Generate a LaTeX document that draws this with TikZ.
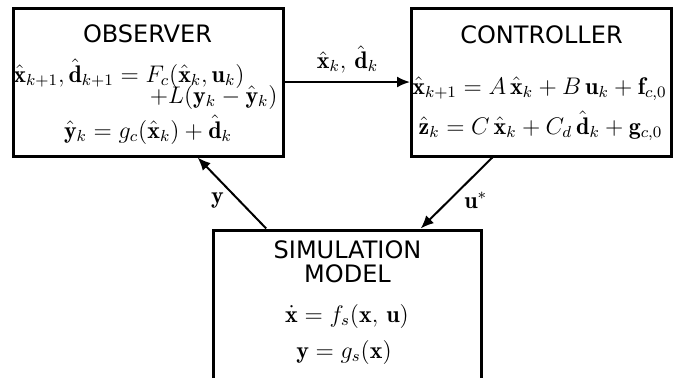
\documentclass[tikz,border=0pt]{standalone}
\usepackage{amsmath,amssymb}
\usepackage{fontspec}
\newfontfamily\titlefont{DejaVu Sans}
\usetikzlibrary{arrows.meta,positioning,calc}
\newcommand{\bx}{\mathbf{x}}
\newcommand{\bhx}{\hat{\mathbf{x}}}
\newcommand{\bhd}{\hat{\mathbf{d}}}
\tikzset{
  blk/.style={draw, line width=1.5pt, inner sep=0pt},
  ttl/.style={font=\titlefont\fontsize{12}{12}\selectfont, align=center, inner sep=0pt},
  eq/.style={font=\fontsize{12}{14}\selectfont, inner sep=0pt},
  fl/.style={-{Latex[length=6.5pt,width=5.5pt]}, line width=1pt},
  sig/.style={font=\fontsize{12}{14}\selectfont, inner sep=1pt},
}
\begin{document}
\begin{tikzpicture}[x=0.5pt, y=-0.5pt]
  \clip (0,0) rectangle (673,377);
  % blocks
  \node[blk, minimum width=135pt, minimum height=74pt] (obs) at (148.5,82) {};
  \node[blk, minimum width=130pt, minimum height=74pt] (ctrl) at (541.5,82) {};
  \node[blk, minimum width=134pt, minimum height=95pt] (sim) at (347.5,325) {};
  % observer
  \node[ttl] (obs title) at (147.5,34) {OBSERVER};
  \node[eq, anchor=base west] (obs eq1) at (13,82)
    {$\bhx_{k+1}, \bhd_{k+1} = F_c(\bhx_k, \mathbf{u}_k)$};
  \node[eq, anchor=base east] (obs eq2) at (278,103)
    {$+L(\mathbf{y}_k - \hat{\mathbf{y}}_k)$};
  \node[eq, anchor=base] (obs eq3) at (148,138) {$\hat{\mathbf{y}}_k = g_c(\bhx_k) + \bhd_k$};
  % controller
  \node[ttl] (ctrl title) at (541.5,35) {CONTROLLER};
  \node[eq] (ctrl eq1) at (539.5,89) {$\bhx_{k+1} = A\,\bhx_k + B\,\mathbf{u}_k + \mathbf{f}_{c,0}$};
  \node[eq] (ctrl eq2) at (540.5,126) {$\hat{\mathbf{z}}_k = C\,\bhx_k + C_d\,\bhd_k + \mathbf{g}_{c,0}$};
  % simulation model
  \node[ttl] (sim title) at (347.5,262) {SIMULATION\\MODEL};
  \node[eq] (sim eq1) at (347,316) {$\dot{\bx} = f_s(\bx,\, \mathbf{u})$};
  \node[eq] (sim eq2) at (344,352) {$\mathbf{y} = g_s(\bx)$};
  % signals
  \draw[fl] (obs) -- node[sig, above=3pt] {$\bhx_k,\, \bhd_k$} (ctrl);
  \draw[fl] ($(sim.north west)!0.2!(sim.north east)$) -- node[sig, pos=0.4, left=6pt] {$\mathbf{y}$}
    ($(obs.south west)!0.68!(obs.south east)$);
  \draw[fl] ($(ctrl.south west)!0.313!(ctrl.south east)$) -- node[sig, pos=0.6, right=6pt] {$\mathbf{u}^*$}
    ($(sim.north west)!0.77!(sim.north east)$);
\end{tikzpicture}
\end{document}
